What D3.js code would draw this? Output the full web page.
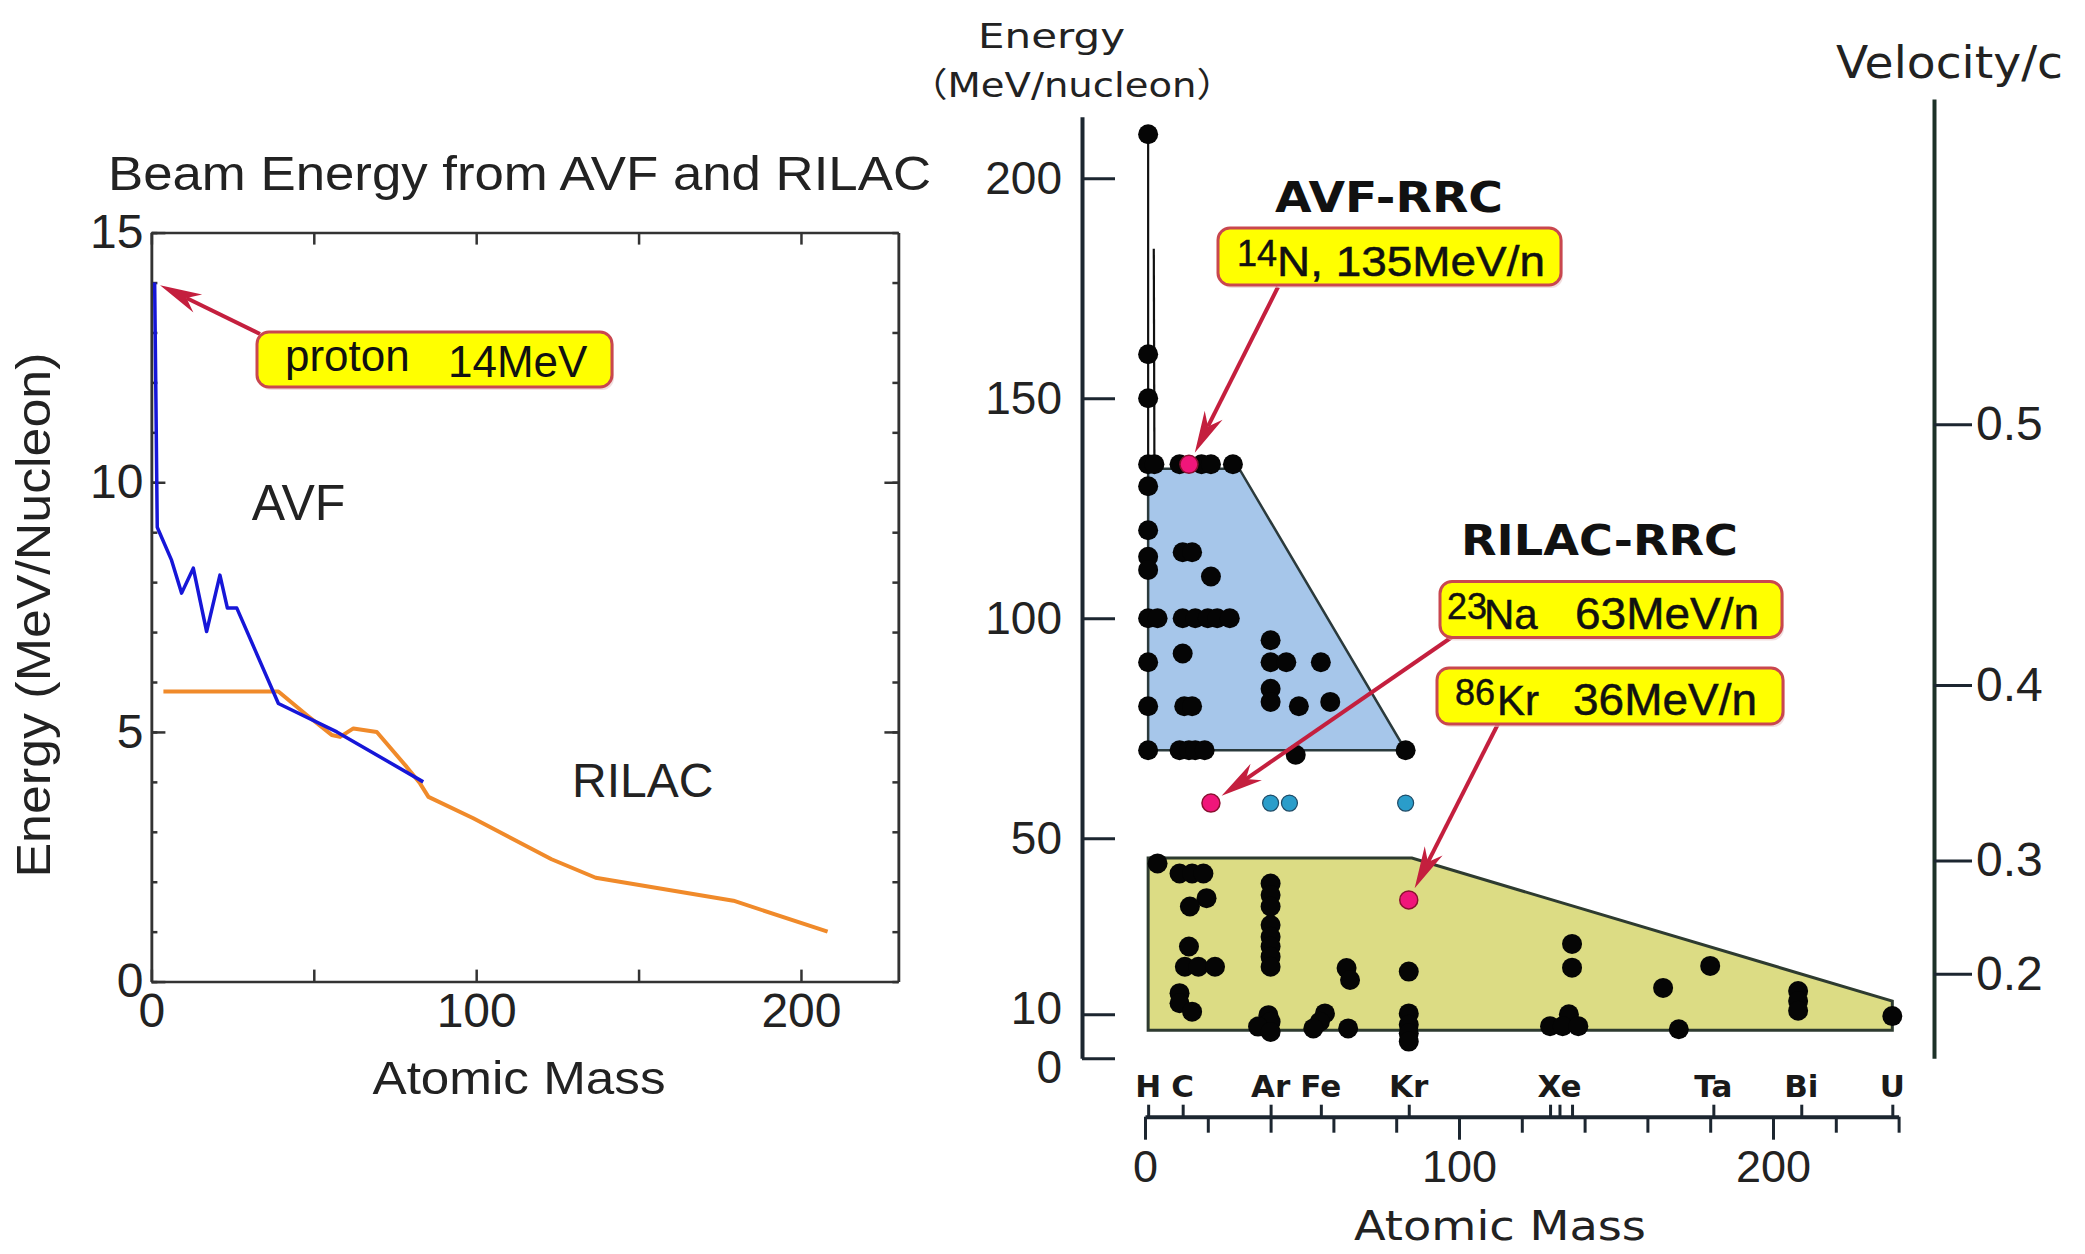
<!DOCTYPE html>
<html>
<head>
<meta charset="utf-8">
<script src="https://cdn.jsdelivr.net/npm/d3@7"></script>
<style>
body { margin: 0; background: #fff; }
svg { display: block; }
</style>
</head>
<body>
<script>
var width = 2085,
    height = 1254;

// ---- left panel data: beam energy (MeV/nucleon) vs atomic mass ----
var avfLine = [[1,14],[1.4,11.6],[1.8,9.1],[6.2,8.44],[9.3,7.78],[12.9,8.28],[17,7.01],[21.1,8.14],
               [23.4,7.48],[26.3,7.48],[39.1,5.57],[57.1,5.0],[83.7,4.0]];
var rilacLine = [[3.7,5.81],[39.1,5.81],[47.8,5.34],[55.5,4.94],[58.1,4.9],[62.2,5.07],[69.4,5.0],
                 [78.6,4.3],[82.7,3.97],[85.3,3.7],[99.1,3.27],[123.2,2.45],[136.8,2.08],[179.2,1.62],[208.2,1.0]];
var leftXTicks = [0,50,100,150,200];
var leftXLabels = [0,100,200];
var leftYLabels = [0,5,10,15];
var leftYMinor = d3.range(0,16);

// ---- right panel data: RRC beams ----
var avfRegion = [[1,134],[30,134],[83,70],[1,70]];
var rilacRegion = [[1,45.5],[85,45.5],[238,13],[238,6.4],[1,6.4]];
var lightIonLines = [[[1,210],[1,135]], [[2.8,184],[3,135]]];
var avfBeams = [[1,210],[1,160],[1,150],
  [1,135],[3,135],[11,135],[18,135],[21,135],[28,135],
  [1,130],[1,120],[1,114],[1,111],[12,115],[15,115],[21,109.5],
  [1,100],[4,100],[12,100],[16,100],[20,100],[23,100],[27,100],
  [12,92],[1,90],[40,95],[40,90],[45,90],[56,90],
  [40,84],[40,81],[49,80],[59,81],[1,80],[12.5,80],[15,80],
  [1,70],[11,70],[14,70],[16,70],[19,70],[48,69],[83,70]];
var rilacBeams = [[4,44.3],[11,42],[15,42],[18.6,42],[19.6,36.4],[14.3,34.5],[14,25.4],
  [12.7,20.8],[17,20.8],[22.3,20.8],[11,14.8],[11,12.5],[15,10.6],
  [40,39.7],[40,37.1],[40,34.5],[40,30.3],[40,27.6],[40,25.4],[40,23.1],[40,20.8],
  [39.3,9.8],[40,8.3],[36,7.2],[40,6.0],
  [57.3,10.2],[55.7,8.3],[53.6,6.8],[64.7,6.8],[64.2,20.5],[65.3,17.8],
  [84,19.7],[84,10.2],[84,7.6],[84,5.7],[84,3.8],
  [136,26],[136,20.6],[135,10],[129,7.3],[133,7.3],[138,7.3],
  [165,16],[170,6.6],[180,21],[208,15.3],[208,13],[208,10.8],[238,9.6]];
var highlightBeams = [[14,135],[21,58],[84,36]];
var newBeams = [[40,58],[46,58],[83,58]];
var energyTicks = [0,10,50,100,150,200];
var velocityTicks = [0.2,0.3,0.4,0.5];
var massTicks = d3.range(0,241,20);
var elementMasses = [1,12,40,56,84,129,132,136,181,209,238];
var elementNames = ["H","C","Ar","Fe","Kr","Xe","Ta","Bi","U"];
var elementLabelMass = [1,12,40,56,84,132,181,209,238];

var RED = "#c41f3e";

var svg = d3.select("body").append("svg")
    .attr("width", width)
    .attr("height", height)
    .style("font-family", "'Liberation Sans', Arial, sans-serif");

svg.append("rect").attr("width", width).attr("height", height).attr("fill", "#fff");

function drawArrow(g, x1, y1, x2, y2) {
    var ang = Math.atan2(y2 - y1, x2 - x1);
    var L = 42, W = 10;
    var c = Math.cos(ang), s = Math.sin(ang);
    g.append("line")
        .attr("x1", x1).attr("y1", y1)
        .attr("x2", x2 - c*L*0.7).attr("y2", y2 - s*L*0.7)
        .attr("stroke", RED).attr("stroke-width", 4);
    var pts = [[0,0],[-L,-W],[-L*0.7,0],[-L,W]].map(function(p) {
        return [x2 + p[0]*c - p[1]*s, y2 + p[0]*s + p[1]*c];
    });
    g.append("polygon").attr("points", pts.join(" ")).attr("fill", RED);
}

// tip a little before the target point, along the arrow
function tipPoint(sx, sy, tx, ty, gap) {
    var d = Math.hypot(sx - tx, sy - ty);
    return [tx + (sx - tx)/d*gap, ty + (sy - ty)/d*gap];
}

function yellowBox(g, x, y, w, h) {
    g.append("rect").attr("x", x+2).attr("y", y+3).attr("width", w).attr("height", h)
        .attr("rx", 12).attr("fill", "#e8c8c8").attr("opacity", 0.6);
    g.append("rect").attr("x", x).attr("y", y).attr("width", w).attr("height", h)
        .attr("rx", 12).attr("fill", "#ffff00").attr("stroke", "#c9474f").attr("stroke-width", 3);
}

// ================= left panel =================
var xL = d3.scaleLinear().domain([0,230]).range([151.4, 898.4]);
var yL = d3.scaleLinear().domain([0,15]).range([981.6, 232.6]);
var gL = svg.append("g");

gL.append("g").attr("transform", "translate(0," + yL(0) + ")")
    .call(d3.axisBottom(xL).tickValues(leftXTicks).tickSizeInner(-12).tickSizeOuter(0).tickPadding(11)
        .tickFormat(function(d) { return leftXLabels.indexOf(d) >= 0 ? d : ""; }));
gL.append("g").attr("transform", "translate(0," + yL(15) + ")")
    .call(d3.axisTop(xL).tickValues(leftXTicks).tickSizeInner(-12).tickSizeOuter(0).tickFormat(""));
gL.append("g").attr("transform", "translate(" + xL(0) + ",0)")
    .call(d3.axisLeft(yL).tickValues(leftYMinor).tickSizeInner(-6).tickSizeOuter(0).tickFormat(""));
gL.append("g").attr("transform", "translate(" + xL(0) + ",0)")
    .call(d3.axisLeft(yL).tickValues(leftYLabels).tickSizeInner(-14).tickSizeOuter(0).tickPadding(8));
gL.append("g").attr("transform", "translate(" + xL(230) + ",0)")
    .call(d3.axisRight(yL).tickValues(leftYMinor).tickSizeInner(-6).tickSizeOuter(0).tickFormat(""));
gL.append("g").attr("transform", "translate(" + xL(230) + ",0)")
    .call(d3.axisRight(yL).tickValues([5,10]).tickSizeInner(-14).tickSizeOuter(0).tickFormat(""));

gL.selectAll(".tick text").filter(function() { return this.textContent === ""; }).remove();
gL.selectAll(".domain").attr("stroke", "#333").attr("stroke-width", 2.5);
gL.selectAll(".tick line").attr("stroke", "#333").attr("stroke-width", 2.5);
gL.selectAll(".tick text").attr("font-size", 48).attr("fill", "#222")
    .attr("font-family", "'Liberation Sans', Arial, sans-serif");

var lineL = d3.line().x(function(d) { return xL(d[0]); }).y(function(d) { return yL(d[1]); });
gL.append("path").attr("d", lineL(rilacLine)).attr("fill", "none")
    .attr("stroke", "#f08a2a").attr("stroke-width", 4).attr("stroke-linejoin", "round");
gL.append("path").attr("d", lineL(avfLine)).attr("fill", "none")
    .attr("stroke", "#1616d8").attr("stroke-width", 3.5).attr("stroke-linejoin", "round");

gL.append("text").attr("x", xL(30.9)).attr("y", yL(9.24)).attr("font-size", 50).attr("fill", "#222").text("AVF");
gL.append("text").attr("x", xL(129.5)).attr("y", yL(3.7)).attr("font-size", 48).attr("fill", "#222").text("RILAC");

gL.append("text").attr("x", 108).attr("y", 190).attr("font-size", 49).attr("fill", "#222")
    .attr("textLength", 823).attr("lengthAdjust", "spacingAndGlyphs")
    .text("Beam Energy from AVF and RILAC");
gL.append("text").attr("transform", "translate(50,615) rotate(-90)").attr("text-anchor", "middle")
    .attr("font-size", 48).attr("fill", "#222")
    .attr("textLength", 525).attr("lengthAdjust", "spacingAndGlyphs")
    .text("Energy (MeV/Nucleon)");
gL.append("text").attr("x", 519).attr("y", 1094).attr("text-anchor", "middle")
    .attr("font-size", 46).attr("fill", "#222")
    .attr("textLength", 293).attr("lengthAdjust", "spacingAndGlyphs")
    .text("Atomic Mass");

// proton annotation
var pStart = [260, 334];
var pTip = tipPoint(pStart[0], pStart[1], xL(avfLine[0][0]), yL(avfLine[0][1]), 6);
drawArrow(gL, pStart[0], pStart[1], pTip[0], pTip[1]);
yellowBox(gL, 257, 332, 355, 55);
gL.append("text").attr("x", 285).attr("y", 371).attr("font-size", 44).attr("fill", "#111").text("proton");
gL.append("text").attr("x", 448).attr("y", 377).attr("font-size", 44).attr("fill", "#111").text("14MeV");

// ================= right panel =================
var xR = d3.scaleLinear().domain([0,240]).range([1145, 1898.6]);
var yR = d3.scaleLinear().domain([0,214]).range([1058.3, 116.7]);
var yV = d3.scaleLinear().domain([0,218]).range([yR(0), yR(218)]);
var gR = svg.append("g");

var lineR = d3.line().x(function(d) { return xR(d[0]); }).y(function(d) { return yR(d[1]); });

gR.append("path").attr("d", lineR(avfRegion) + "Z")
    .attr("fill", "#a6c6ea").attr("stroke", "#2b3a3c").attr("stroke-width", 2.5);
gR.append("path").attr("d", lineR(rilacRegion) + "Z")
    .attr("fill", "#dcdc84").attr("stroke", "#2e3b30").attr("stroke-width", 3);
lightIonLines.forEach(function(l) {
    gR.append("path").attr("d", lineR(l)).attr("stroke", "#111").attr("stroke-width", 2.2).attr("fill", "none");
});

gR.append("g").selectAll("circle").data(avfBeams.concat(rilacBeams)).enter().append("circle")
    .attr("cx", function(d) { return xR(d[0]); })
    .attr("cy", function(d) { return yR(d[1]); })
    .attr("r", 10).attr("fill", "#050505");
gR.append("g").selectAll("circle").data(newBeams).enter().append("circle")
    .attr("cx", function(d) { return xR(d[0]); })
    .attr("cy", function(d) { return yR(d[1]); })
    .attr("r", 8).attr("fill", "#2a9dca").attr("stroke", "#1d4a66").attr("stroke-width", 1.2);
gR.append("g").selectAll("circle").data(highlightBeams).enter().append("circle")
    .attr("cx", function(d) { return xR(d[0]); })
    .attr("cy", function(d) { return yR(d[1]); })
    .attr("r", 9).attr("fill", "#f0167a").attr("stroke", "#8a1030").attr("stroke-width", 1.5);

// energy axis (labels left, ticks right)
var eAxis = gR.append("g").attr("class", "eaxis").attr("transform", "translate(1082,0)")
    .call(d3.axisLeft(yR).tickValues(energyTicks).tickSizeInner(-33).tickSizeOuter(0).tickPadding(20));
// velocity axis
function betaToE(b) { return 931.494*(1/Math.sqrt(1 - b*b) - 1); }
gR.append("g").attr("class", "vaxis").attr("transform", "translate(1934,0)")
    .call(d3.axisRight(yV).tickValues(velocityTicks.map(betaToE)).tickSizeInner(38).tickSizeOuter(0).tickPadding(4)
        .tickFormat(function(e, i) { return velocityTicks[i]; }));
// mass axis
var massAxis = gR.append("g").attr("class", "maxis").attr("transform", "translate(0,1116.7)")
    .call(d3.axisBottom(xR).tickValues(massTicks).tickSizeInner(16).tickSizeOuter(0).tickPadding(17)
        .tickFormat(function(d) { return d % 100 === 0 ? d : ""; }));
massAxis.selectAll(".tick line").filter(function(d) { return d % 100 === 0; }).attr("y2", 23);
gR.append("g").attr("class", "elaxis").attr("transform", "translate(0,1116.7)")
    .call(d3.axisTop(xR).tickValues(elementMasses).tickSizeInner(12).tickSizeOuter(0).tickFormat(""))
    .select(".domain").remove();

gR.selectAll(".tick text").filter(function() { return this.textContent === ""; }).remove();
gR.selectAll(".domain").attr("stroke", "#1c2630").attr("stroke-width", 4);
gR.selectAll(".vaxis .domain").attr("stroke", "#1d3128");
gR.selectAll(".tick line").attr("stroke", "#1c2630").attr("stroke-width", 3);
gR.selectAll(".tick text").attr("font-size", 48).attr("fill", "#222")
    .attr("font-family", "'Liberation Sans', Arial, sans-serif");
gR.selectAll(".maxis .tick text").attr("font-size", 45);
// keep "10" and "0" on the energy axis apart
eAxis.selectAll(".tick text").attr("font-size", 46)
    .filter(function(d) { return d === 0; }).attr("dy", "0.52em");
eAxis.selectAll(".tick text").filter(function(d) { return d === 10; }).attr("dy", "0.2em");

var serif2 = "'DejaVu Sans', 'Noto Sans CJK JP', sans-serif";
gR.append("g").selectAll("text").data(elementNames).enter().append("text")
    .attr("x", function(d, i) { return xR(elementLabelMass[i]); })
    .attr("y", 1097).attr("text-anchor", "middle")
    .attr("font-family", serif2).attr("font-weight", "bold").attr("font-size", 31).attr("fill", "#1a1a1a")
    .text(function(d) { return d; });

gR.append("text").attr("x", 1051.5).attr("y", 48).attr("text-anchor", "middle")
    .attr("font-family", serif2).attr("font-size", 34).attr("fill", "#222")
    .attr("textLength", 147).attr("lengthAdjust", "spacingAndGlyphs").text("Energy");
gR.append("text").attr("x", 1072).attr("y", 97).attr("text-anchor", "middle")
    .attr("font-family", serif2).attr("font-size", 34).attr("fill", "#222")
    .attr("textLength", 326).attr("lengthAdjust", "spacingAndGlyphs").text("（MeV/nucleon）");
gR.append("text").attr("x", 1836).attr("y", 78)
    .attr("font-family", serif2).attr("font-size", 44).attr("fill", "#222")
    .attr("textLength", 227).attr("lengthAdjust", "spacingAndGlyphs").text("Velocity/c");
gR.append("text").attr("x", 1500).attr("y", 1240).attr("text-anchor", "middle")
    .attr("font-family", serif2).attr("font-size", 40).attr("fill", "#222")
    .attr("textLength", 292).attr("lengthAdjust", "spacingAndGlyphs").text("Atomic Mass");
gR.append("text").attr("x", 1275).attr("y", 212)
    .attr("font-family", serif2).attr("font-weight", "bold").attr("font-size", 42).attr("fill", "#111")
    .attr("textLength", 228).attr("lengthAdjust", "spacingAndGlyphs").text("AVF-RRC");
gR.append("text").attr("x", 1461).attr("y", 555)
    .attr("font-family", serif2).attr("font-weight", "bold").attr("font-size", 42).attr("fill", "#111")
    .attr("textLength", 277).attr("lengthAdjust", "spacingAndGlyphs").text("RILAC-RRC");

// highlighted beam callouts
var callouts = [
    {beam: highlightBeams[0], start: [1278, 287], box: [1218, 228, 343, 57], sup: "14", name: "N, 135MeV/n", supX: 1237, nameX: 1277, nameW: 268},
    {beam: highlightBeams[1], start: [1452, 637], box: [1440, 581.5, 342, 56], sup: "23", name: "Na", supX: 1447, nameX: 1484, nameW: null, energy: "63MeV/n", energyX: 1575},
    {beam: highlightBeams[2], start: [1498, 724], box: [1437, 668, 346, 56], sup: "86", name: "Kr", supX: 1455, nameX: 1497, nameW: null, energy: "36MeV/n", energyX: 1573}
];
callouts.forEach(function(c) {
    var t = tipPoint(c.start[0], c.start[1], xR(c.beam[0]), yR(c.beam[1]), 13);
    drawArrow(gR, c.start[0], c.start[1], t[0], t[1]);
    yellowBox(gR, c.box[0], c.box[1], c.box[2], c.box[3]);
    var base = c.box[1] + c.box[3] - 9;
    gR.append("text").attr("x", c.supX).attr("y", base - 10).attr("font-size", 36).attr("fill", "#111")
        .attr("stroke", "#111").attr("stroke-width", 0.5).text(c.sup);
    var nm = gR.append("text").attr("x", c.nameX).attr("y", base).attr("font-size", 42).attr("fill", "#111")
        .attr("stroke", "#111").attr("stroke-width", 0.5).text(c.name);
    if (c.nameW) nm.attr("textLength", c.nameW).attr("lengthAdjust", "spacingAndGlyphs");
    if (c.energy) {
        gR.append("text").attr("x", c.energyX).attr("y", base).attr("font-size", 44).attr("fill", "#111")
            .attr("stroke", "#111").attr("stroke-width", 0.5)
            .attr("textLength", 184).attr("lengthAdjust", "spacingAndGlyphs").text(c.energy);
    }
});
</script>
</body>
</html>
